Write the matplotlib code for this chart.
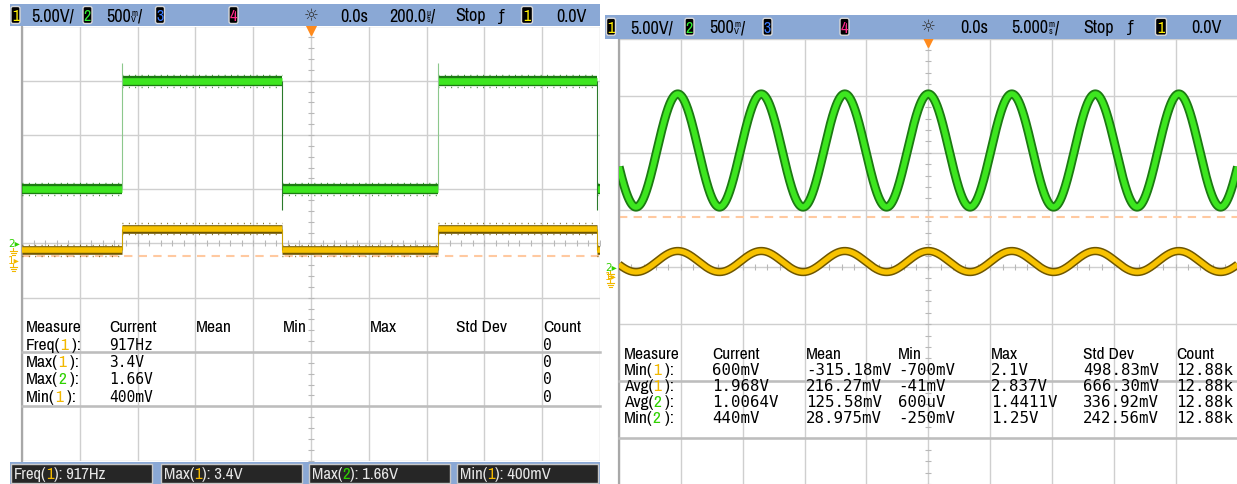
import numpy as np
import matplotlib.pyplot as plt
from matplotlib import font_manager as fm
from matplotlib.patches import Rectangle, FancyBboxPatch

W, H = 1237, 485

# left capture, 200 us/div: square wave on both channels
sq_edges_us = [-654, -100, 439, 990]
sq_states = [0, 1, 0, 1, 0]          # level before/between/after edges
ch1_sq_level = [0.92, 2.90]          # V, low / high (yellow)
ch2_sq_level = [0.50, 1.50]          # V, low / high (green)
ch1_sq_extreme = [0.40, 3.40]        # noise min / max
ch2_edge_extreme = [0.31, 1.66]      # falling undershoot / rising overshoot
sq_trig_div = -0.236

# right capture, 5 ms/div: sine on both channels
sine_period_ms = 6.75
ch1_sine_mean, ch1_sine_amp = 1.27, 0.92
ch2_sine_mean, ch2_sine_amp = 1.02, 0.495
sine_trig_div = 0.88

# channel scales (V/div) and offsets (div) per capture
ch1_vdiv, ch2_vdiv = 5.0, 0.5
left_offsets = [-0.31, 0.0]
right_offsets = [-0.158, 0.0]

# measurement tables
table_cols = ["Measure", "Current", "Mean", "Min", "Max", "Std Dev", "Count"]
left_names = ["Freq", "Max", "Max", "Min"]
left_chan = [1, 1, 2, 1]
left_current = ["917Hz", "3.4V", "1.66V", "400mV"]
left_count = ["0", "0", "0", "0"]

right_names = ["Min", "Avg", "Avg", "Min"]
right_chan = [1, 1, 2, 2]
right_current = ["600mV", "1.968V", "1.0064V", "440mV"]
right_mean = ["-315.18mV", "216.27mV", "125.58mV", "28.975mV"]
right_min = ["-700mV", "-41mV", "600uV", "-250mV"]
right_max = ["2.1V", "2.837V", "1.4411V", "1.25V"]
right_std = ["498.83mV", "666.30mV", "336.92mV", "242.56mV"]
right_count = ["12.88k", "12.88k", "12.88k", "12.88k"]

# the scope uses a narrow face; take a condensed one if the system has it
_fonts = fm.fontManager.ttflist
_narrow = [f for f in _fonts if 'Narrow' in f.name or 'Condensed' in f.name]
_cond = [f for f in _fonts if f.stretch in ('condensed', 'semi-condensed', 'extra-condensed')
         and f.name in ('DejaVu Sans', 'Noto Sans', 'Liberation Sans', 'Roboto', 'Open Sans')]
if _narrow:
    NARROW, STRETCH, NSCALE = [_narrow[0].name, 'DejaVu Sans'], 'normal', 1.0
elif _cond:
    NARROW, STRETCH, NSCALE = [_cond[0].name, 'DejaVu Sans'], _cond[0].stretch, 0.95
else:
    NARROW, STRETCH, NSCALE = ['Liberation Sans', 'DejaVu Sans'], 'normal', 0.9
MONO = ['DejaVu Sans Mono']

HDR = '#8aa8d5'
GREEN, GREEN_DK = '#3de61f', '#1c7a12'
YEL, YEL_DK = '#f7c200', '#6e5600'
CH_COL = {1: '#f2b800', 2: '#2fd100'}
BADGE_COL = {1: '#ffee00', 2: '#33ee33', 3: '#3a7bff', 4: '#ff2a8a'}

fig = plt.figure(figsize=(W / 100, H / 100), dpi=100)
renderer = fig.canvas.get_renderer()


def to_div(v, vdiv, off):
    return np.asarray(v) / vdiv + off


def scope_axes(x0, x1, y0, y1, half_span):
    ax = fig.add_axes([x0 / W, 1 - y1 / H, (x1 - x0) / W, (y1 - y0) / H])
    ax.set_xlim(-half_span, half_span)
    ax.set_ylim(-4, 4)
    ax.set_xticks(np.linspace(-half_span, half_span, 11))
    ax.set_yticks(np.arange(-4, 5))
    ax.grid(True, color='#cfcfcf', lw=1.0)
    ax.tick_params(length=0, labelbottom=False, labelleft=False)
    for side in ('top', 'right', 'bottom'):
        ax.spines[side].set_visible(False)
    ax.spines['left'].set_color('#a8a8a8')
    ax.spines['left'].set_linewidth(1.6)
    # small ticks along the centre cross
    sub_t = np.linspace(-half_span, half_span, 51)
    sub_v = np.linspace(-4, 4, 41)
    ax.plot(sub_t, np.zeros_like(sub_t), ls='none', marker='|', ms=4, mew=0.8, color='#b8b8b8')
    ax.plot(np.zeros_like(sub_v), sub_v, ls='none', marker='_', ms=4, mew=0.8, color='#b8b8b8')
    ax.plot([0], [3.94], marker='v', ms=7, color='#ff8a1c', clip_on=False, zorder=6)
    return ax


# ---------- left: square wave ----------
L = (22, 600, 27.5, 461.5)
axL = scope_axes(*L, 1000)
axL.axhline(sq_trig_div, color='#ffc9a0', lw=1.5, dashes=(4, 3), zorder=1.8)
bounds = [-1000] + sq_edges_us + [1000]
for i, st in enumerate(sq_states):
    a, b = bounds[i], bounds[i + 1]
    g = to_div(ch2_sq_level[st], ch2_vdiv, left_offsets[1])
    y = to_div(ch1_sq_level[st], ch1_vdiv, left_offsets[0])
    axL.hlines(g, a, b, color=GREEN_DK, lw=7.4, zorder=3)
    axL.hlines(g, a, b, color=GREEN, lw=4.8, zorder=3)
    for d in (-0.11, 0.11):
        axL.hlines(g + d, a, b, color=GREEN_DK, lw=1.0, linestyles=(0, (0.6, 4)), zorder=3)
    axL.hlines(y, a, b, color=YEL_DK, lw=6.2, zorder=3)
    axL.hlines(y, a, b, color=YEL, lw=4.0, zorder=3)
    y_ext = to_div(ch1_sq_extreme[st], ch1_vdiv, left_offsets[0])
    y_opp = y - (y_ext - y)
    for yy in (y_ext, y_opp):
        axL.hlines(yy, a, b, color=YEL_DK, lw=1.0, linestyles=(0, (0.6, 4)), zorder=3)
for i, e in enumerate(sq_edges_us):
    rising = sq_states[i + 1] == 1
    lo = to_div(ch2_sq_level[0] if rising else ch2_edge_extreme[0], ch2_vdiv, left_offsets[1])
    hi = to_div(ch2_edge_extreme[1] if rising else ch2_sq_level[1], ch2_vdiv, left_offsets[1])
    axL.vlines(e, lo, hi, color='#8cc88c' if rising else '#2b7a2b', lw=0.8, zorder=3)
    ylo, yhi = to_div(ch1_sq_level, ch1_vdiv, left_offsets[0])
    axL.vlines(e, ylo, yhi, color='#c9a000', lw=0.8, zorder=3)

# ---------- right: sines ----------
R = (619, 1237.6, 39.6, 496.4)
axR = scope_axes(*R, 25)
axR.axhline(sine_trig_div, color='#ffc9a0', lw=1.5, dashes=(4, 3), zorder=1.8)
t = np.linspace(-25, 25, 3000)
phase = np.cos(2 * np.pi * t / sine_period_ms)
g = to_div(ch2_sine_mean + ch2_sine_amp * phase, ch2_vdiv, right_offsets[1])
y = to_div(ch1_sine_mean + ch1_sine_amp * phase, ch1_vdiv, right_offsets[0])
axR.plot(t, g, color=GREEN_DK, lw=6.6, zorder=3, solid_capstyle='butt')
axR.plot(t, g, color=GREEN, lw=4.0, zorder=3, solid_capstyle='butt')
axR.plot(t, y, color=YEL_DK, lw=6.0, zorder=3, solid_capstyle='butt')
axR.plot(t, y, color=YEL, lw=3.8, zorder=3, solid_capstyle='butt')

# ---------- overlay: header bars, markers, tables ----------
ov = fig.add_axes([0, 0, 1, 1], facecolor='none')
ov.set_xlim(0, W)
ov.set_ylim(H, 0)
ov.axis('off')


def seq(x, y, parts, size, family, va='baseline'):
    extra = {}
    if family is NARROW:
        size = size * NSCALE
        extra['fontstretch'] = STRETCH
    for s, c in parts:
        txt = ov.text(x, y, s, color=c, fontsize=size, family=family, va=va, ha='left', **extra)
        x += txt.get_window_extent(renderer).width
    return x


def badge(xc, yc, label, w=9):
    ov.add_patch(FancyBboxPatch((xc - w / 2, yc - 8.5), w, 17, boxstyle='round,pad=0,rounding_size=2',
                                fc='black', ec='#d8d8d8', lw=1.0))
    ov.text(xc, yc + 0.5, label, color=BADGE_COL[int(label)], fontsize=11.5, family=NARROW,
            fontstretch=STRETCH, ha='center', va='center')


def stacked(x, yc, num, top, bot):
    x = seq(x, yc + 5.5, [(num, 'black')], 13, NARROW)
    a = ov.text(x + 0.5, yc - 3, top, fontsize=6.5, family=NARROW, va='center', ha='left')
    b = ov.text(x + 0.5, yc + 4, bot, fontsize=6.5, family=NARROW, va='center', ha='left')
    x += max(a.get_window_extent(renderer).width, b.get_window_extent(renderer).width) + 1
    return seq(x, yc + 5.5, [('/', 'black')], 13, NARROW)


def header(x0, x1, y0, y1, pos):
    yc = (y0 + y1) / 2
    ov.add_patch(Rectangle((x0, y0), x1 - x0, y1 - y0, fc=HDR, ec='none'))
    badge(pos['b1'], yc, '1')
    seq(pos['v1'], yc + 5.5, [('5.00V/', 'black')], 13, NARROW)
    badge(pos['b2'], yc, '2')
    stacked(pos['v2'], yc, '500', 'm', 'V')
    badge(pos['b3'], yc, '3')
    badge(pos['b4'], yc, '4')
    ov.text(pos['sun'], yc, '\u263c', fontsize=12, ha='center', va='center', color='#333333')
    seq(pos['t0'], yc + 5.5, [('0.0s', 'black')], 13, NARROW)
    stacked(pos['tb'], yc, pos['tb_num'], pos['tb_unit'], 's')
    seq(pos['stop'], yc + 5.5, [('Stop', 'black')], 13, NARROW)
    ov.text(pos['edge'], yc, '\u0192', fontsize=11, ha='center', va='center', family=['DejaVu Sans'])
    badge(pos['bt'], yc, '1', w=11)
    seq(pos['lvl'], yc + 5.5, [('0.0V', 'black')], 13, NARROW)


header(10, 600, 5, 27, dict(b1=15.5, v1=31, b2=87.5, v2=106, b3=160, b4=233.5, sun=311, t0=340,
                            tb=389, tb_num='200.0', tb_unit='\u00b5', stop=455, edge=502, bt=527, lvl=556))
header(605, W, 16, 39.5, dict(b1=611, v1=630, b2=689.5, v2=709, b3=767.5, b4=844.5, sun=928, t0=960,
                              tb=1011, tb_num='5.000', tb_unit='m', stop=1083, edge=1131, bt=1161, lvl=1191))


def ground_symbol(xc, ytop, col):
    ov.plot([xc, xc], [ytop, ytop + 3], color=col, lw=0.8)
    for k, hw in enumerate((3.5, 2.5, 1.5)):
        ov.plot([xc - hw, xc + hw], [ytop + 3 + 2 * k, ytop + 3 + 2 * k], color=col, lw=0.8)


def ground_markers(panel, offsets):
    x0, x1, y0, y1 = panel
    dh = (y1 - y0) / 8
    yc = y0 + 4 * dh
    for ch, off in ((2, offsets[1]), (1, offsets[0])):
        yy = yc - off * dh
        ov.text(x0 - 2, yy, f'{ch}\u25b8', color=CH_COL[ch], fontsize=7.5, family=['DejaVu Sans'],
                ha='right', va='center')
        ground_symbol(x0 - 9, yy + 4, CH_COL[1])


ground_markers(L, left_offsets)
ground_markers(R, right_offsets)


def table(panel, col_x, y_head, dy, names, chans, values, size_lbl, size_val, sep_rows):
    x0, x1, y0, y1 = panel
    dh = (y1 - y0) / 8
    for r in sep_rows:
        yy = y0 + r * dh
        ov.plot([x0, min(x1, W)], [yy, yy], color='#bdbdbd', lw=1.8)
    for cx, name in zip(col_x, table_cols):
        seq(cx, y_head + 5.5, [(name, 'black')], size_lbl, NARROW)
    for i, (nm, ch) in enumerate(zip(names, chans)):
        yb = y_head + dy * (i + 1) + 5.5
        seq(col_x[0], yb, [(nm + '(', 'black'), (str(ch), CH_COL[ch]), (' ):', 'black')], size_lbl, NARROW)
        for cx, col in zip(col_x[1:], values):
            if col is not None:
                ov.text(cx, yb, col[i], fontsize=size_val, family=MONO, va='baseline', ha='left')


table(L, [26, 109, 196, 283, 370, 456, 543], 327, 17.3, left_names, left_chan,
      [left_current, None, None, None, None, left_count], 12.5, 10.5, [6, 7])
table(R, [624, 712, 806, 898, 991, 1083, 1176], 354, 15.8, right_names, right_chan,
      [right_current, right_mean, right_min, right_max, right_std, right_count], 12.5, 11.3, [6, 7])

# status bar under the left capture
ov.add_patch(Rectangle((10, 463), 590, 22, fc=HDR, ec='none'))
for bx, nm, ch, val in zip([10, 160, 308, 456], left_names, left_chan, left_current):
    ov.add_patch(Rectangle((bx + 1, 464.5), 141, 19, fc='#262626', ec='#c8c8c8', lw=1.0))
    seq(bx + 4, 479, [(nm + '(', '#e6e6e6'), (str(ch), CH_COL[ch]), ('): ' + val, '#e6e6e6')],
        12, NARROW)

fig.savefig('out.png', dpi=100)
